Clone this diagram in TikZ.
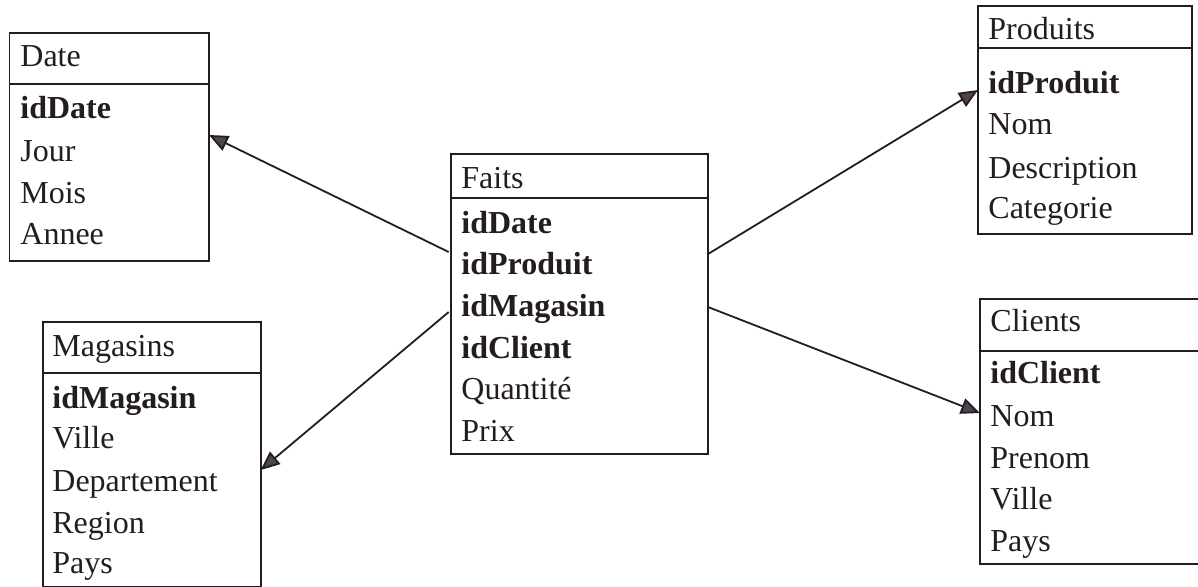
\documentclass[tikz,border=0pt]{standalone}
\usepackage{fontspec}
\setmainfont{Liberation Serif}
\usetikzlibrary{arrows.meta,calc,fit}
\definecolor{ink}{HTML}{231C20}
\definecolor{tipfill}{HTML}{4F434F}
\begin{document}
\begin{tikzpicture}[x=0.5pt,y=-0.5pt,
  tbl/.style={draw=ink, line width=0.85pt, inner sep=0pt, outer sep=0pt},
  sep/.style={draw=ink, line width=0.85pt},
  fld/.style={anchor=base west, inner sep=0pt, text=ink,
    font=\fontsize{16}{19}\selectfont},
  key/.style={fld, font=\fontsize{16}{19}\selectfont\bfseries},
  fk/.style={draw=ink, line width=0.9pt,
    -{Triangle[length=9.5pt,width=8pt,fill=tipfill]}}]
\useasboundingbox (0,0) rectangle (1198,586);
\clip (0,0) rectangle (1198,586);

% --- Date dimension ---
\node[tbl, fit={(9.5,33) (209,261)}] (date) {};
\draw[sep] (date.west |- 0,84) -- (date.east |- 0,84);
\node[fld] (date-t) at (20,66) {Date};
\node[key] (date-1) at (20,118) {idDate};
\node[fld] (date-2) at (20,161) {Jour};
\node[fld] (date-3) at (20,203) {Mois};
\node[fld] (date-4) at (20,244) {Annee};

% --- Magasins dimension ---
\node[tbl, fit={(42.7,322) (260.7,586.5)}] (mag) {};
\draw[sep] (mag.west |- 0,372.7) -- (mag.east |- 0,372.7);
\node[fld] (mag-t) at (52,356) {Magasins};
\node[key] (mag-1) at (52,408) {idMagasin};
\node[fld] (mag-2) at (52,448) {Ville};
\node[fld] (mag-3) at (52,491) {Departement};
\node[fld] (mag-4) at (52,533) {Region};
\node[fld] (mag-5) at (52,573) {Pays};

% --- Fact table ---
\node[tbl, fit={(450.7,154) (708,454)}] (faits) {};
\draw[sep] (faits.west |- 0,197.7) -- (faits.east |- 0,197.7);
\node[fld] (faits-t) at (461,188) {Faits};
\node[key] (faits-1) at (461,233) {idDate};
\node[key] (faits-2) at (461,274) {idProduit};
\node[key] (faits-3) at (461,316) {idMagasin};
\node[key] (faits-4) at (461,358) {idClient};
\node[fld] (faits-5) at (461,399) {Quantité};
\node[fld] (faits-6) at (461,441) {Prix};

% --- Produits dimension ---
\node[tbl, fit={(978,6) (1192,234)}] (prod) {};
\draw[sep] (prod.west |- 0,48) -- (prod.east |- 0,48);
\node[fld] (prod-t) at (988,39) {Produits};
\node[key] (prod-1) at (988,93) {idProduit};
\node[fld] (prod-2) at (988,134) {Nom};
\node[fld] (prod-3) at (988,178) {Description};
\node[fld] (prod-4) at (988,218) {Categorie};

% --- Clients dimension ---
\node[tbl, fit={(980,299) (1210,564)}] (cli) {};
\draw[sep] (cli.west |- 0,350.7) -- (cli.east |- 0,350.7);
\node[fld] (cli-t) at (990,331) {Clients};
\node[key] (cli-1) at (990,383) {idClient};
\node[fld] (cli-2) at (990,426) {Nom};
\node[fld] (cli-3) at (990,468) {Prenom};
\node[fld] (cli-4) at (990,509) {Ville};
\node[fld] (cli-5) at (990,551) {Pays};

% --- Foreign-key links ---
\draw[fk] ($(faits.north west)+(-2,98)$) -- ($(date.north east)+(0,102)$);
\draw[fk] ($(faits.north west)+(-2,158)$) -- ($(mag.north east)+(0,148)$);
\draw[fk] ($(faits.north east)+(0,100)$) -- ($(prod.north west)+(0,84)$);
\draw[fk] ($(faits.north east)+(0,153)$) -- ($(cli.north west)+(0,114)$);
\end{tikzpicture}
\end{document}
